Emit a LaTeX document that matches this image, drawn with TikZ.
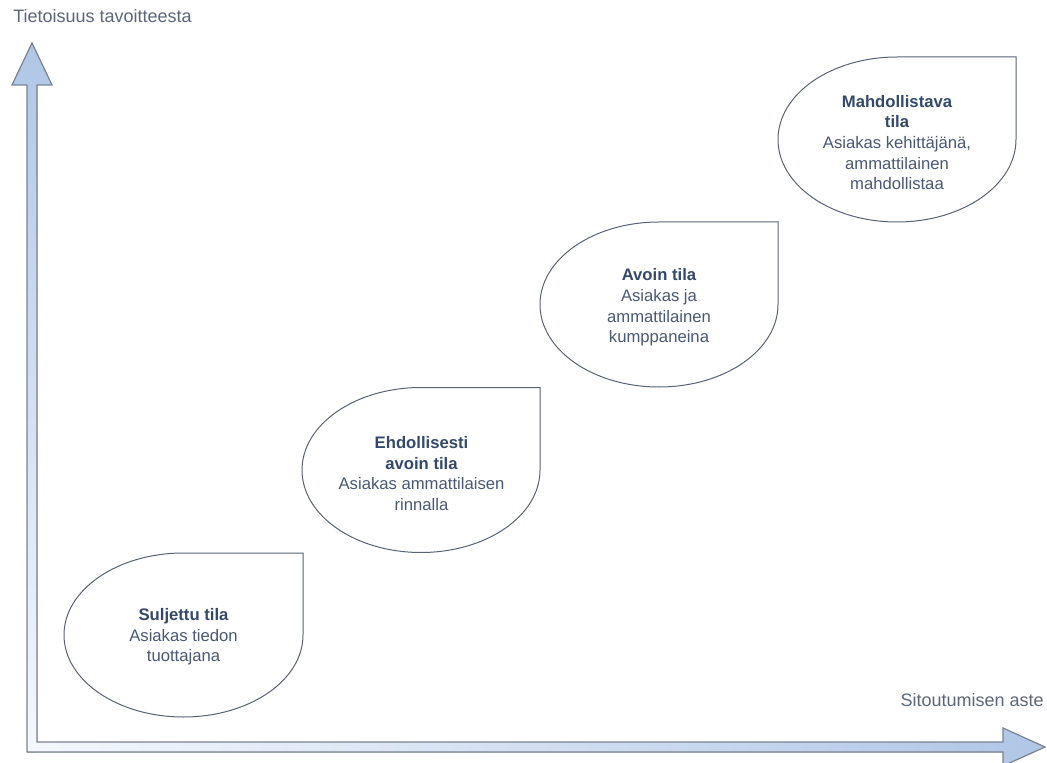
\documentclass[tikz,border=0pt]{standalone}
\usepackage{fontspec}
\setmainfont{Liberation Sans}
\usepackage{xcolor}
\usepackage{tikz}

\definecolor{axisblue}{RGB}{176,198,230}
\definecolor{axislight}{RGB}{244,248,253}
\definecolor{axisline}{RGB}{122,130,145}
\definecolor{dropline}{RGB}{88,98,118}
\definecolor{titleblue}{RGB}{52,72,106}
\definecolor{bodyblue}{RGB}{74,88,114}
\definecolor{labelgray}{RGB}{92,102,120}

\newcommand{\stagetitle}[1]{\textcolor{titleblue}{\bfseries #1}}

\begin{document}
\begin{tikzpicture}[x=0.75pt,y=0.75pt,yscale=-1,xscale=1,
  teardrop/.style={draw=dropline, line width=0.75},
  stagetext/.style={align=center, inner sep=0.75pt, text=bodyblue, font=\fontsize{12.5}{15.5}\selectfont},
  axislabel/.style={inner sep=0.75pt, text=labelgray, font=\fontsize{13.5}{16}\selectfont}]
\useasboundingbox (0,0) rectangle (1047,763);

%Axis: vertical arrow
\fill [top color=axisblue, bottom color=axislight] (32,43) -- (52,85) -- (37,85) -- (37,752) -- (27,752) -- (27,85) -- (12,85) -- cycle ;
%Axis: horizontal arrow
\fill [left color=axislight, right color=axisblue] (27,742) -- (1003,742) -- (1003,728) -- (1045,747) -- (1003,766) -- (1003,752) -- (27,752) -- cycle ;
%Axis outline
\draw [color=axisline, line width=0.9] (32,43) -- (52,85) -- (37,85) -- (37,742) -- (1003,742) -- (1003,728) -- (1045,747) -- (1003,766) -- (1003,752) -- (27,752) -- (27,85) -- (12,85) -- cycle ;

%Shape: Teardrop
\draw [teardrop] (303,553) -- (303,635) arc (0:270:119.5 and 82) -- cycle ;
%Shape: Teardrop
\draw [teardrop] (540,387.5) -- (540,470) arc (0:270:119 and 82.5) -- cycle ;
%Shape: Teardrop
\draw [teardrop] (778,222) -- (778,304.5) arc (0:270:119 and 82.5) -- cycle ;
%Shape: Teardrop
\draw [teardrop] (1016,57) -- (1016,139.5) arc (0:270:119 and 82.5) -- cycle ;

% Text Node
\node (suljettu) [stagetext] at (183.5,637) {\stagetitle{Suljettu tila}\\Asiakas tiedon\\tuottajana};
% Text Node
\node (ehdollisesti) [stagetext] at (421.5,473.5) {\stagetitle{Ehdollisesti}\\\stagetitle{avoin tila}\\Asiakas ammattilaisen\\rinnalla};
% Text Node
\node (avoin) [stagetext] at (659,307.5) {\stagetitle{Avoin tila}\\Asiakas ja\\ammattilainen\\kumppaneina};
% Text Node
\node (mahdollistava) [stagetext] at (897,142.5) {\stagetitle{Mahdollistava}\\\stagetitle{tila}\\Asiakas kehittäjänä,\\ammattilainen\\mahdollistaa};

% Text Node
\node (ylabel) [axislabel, anchor=west] at (12,16) {Tietoisuus tavoitteesta};
% Text Node
\node (xlabel) [axislabel, anchor=east] at (1045,700) {Sitoutumisen aste};

\end{tikzpicture}
\end{document}
